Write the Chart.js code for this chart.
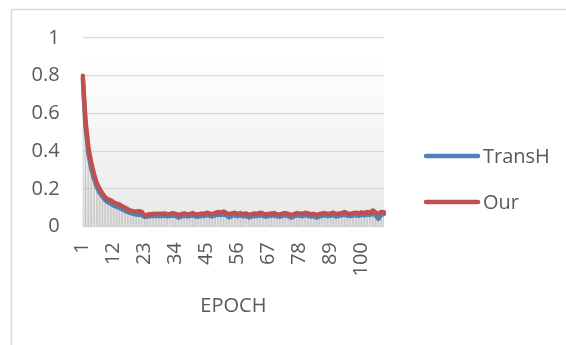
<!DOCTYPE html>
<html>
<head>
<meta charset="utf-8">
<script src="https://cdn.jsdelivr.net/npm/chart.js@4/dist/chart.umd.min.js"></script>
<style>
  html, body { margin: 0; padding: 0; background: #ffffff; }
  #wrap { position: relative; width: 566px; height: 345px; }
</style>
</head>
<body>
<div id="wrap"><canvas id="c" width="566" height="345"></canvas></div>
<script>
// Training loss per epoch
const epochs = [];
for (let e = 1; e <= 108; e++) epochs.push(String(e));

const tickLabels = ['1', '12', '23', '34', '45', '56', '67', '78', '89', '100'];
const yTickLabels = ['0', '0.2', '0.4', '0.6', '0.8', '1'];

const transH = [
  0.79, 0.53, 0.39, 0.31, 0.255, 0.21, 0.18, 0.16, 0.14, 0.13,
  0.122, 0.112, 0.106, 0.10, 0.092, 0.085, 0.078, 0.072, 0.068, 0.065,
  0.063, 0.062, 0.052, 0.054, 0.056, 0.058, 0.056, 0.058, 0.057, 0.059,
  0.055, 0.057, 0.06, 0.056, 0.048, 0.054, 0.058, 0.055, 0.057, 0.06,
  0.055, 0.053, 0.058, 0.056, 0.062, 0.058, 0.055, 0.06, 0.064, 0.062,
  0.066, 0.06, 0.05, 0.057, 0.062, 0.056, 0.06, 0.055, 0.058, 0.049,
  0.054, 0.058, 0.056, 0.061, 0.058, 0.053, 0.056, 0.058, 0.06, 0.055,
  0.053, 0.058, 0.06, 0.056, 0.048, 0.054, 0.06, 0.058, 0.056, 0.062,
  0.058, 0.054, 0.056, 0.048, 0.054, 0.058, 0.06, 0.056, 0.058, 0.062,
  0.054, 0.058, 0.06, 0.064, 0.058, 0.056, 0.06, 0.062, 0.058, 0.063,
  0.06, 0.065, 0.062, 0.07, 0.06, 0.042, 0.062, 0.068
];

const our = [
  0.80, 0.56, 0.42, 0.34, 0.28, 0.23, 0.20, 0.175, 0.155, 0.145,
  0.14, 0.128, 0.122, 0.118, 0.108, 0.10, 0.092, 0.085, 0.082, 0.08,
  0.082, 0.078, 0.058, 0.064, 0.066, 0.068, 0.067, 0.069, 0.068, 0.07,
  0.066, 0.068, 0.072, 0.068, 0.062, 0.066, 0.07, 0.066, 0.068, 0.072,
  0.066, 0.064, 0.07, 0.068, 0.074, 0.07, 0.066, 0.072, 0.078, 0.074,
  0.08, 0.072, 0.066, 0.07, 0.074, 0.068, 0.072, 0.066, 0.07, 0.062,
  0.066, 0.07, 0.068, 0.074, 0.07, 0.064, 0.068, 0.07, 0.072, 0.066,
  0.064, 0.07, 0.072, 0.068, 0.062, 0.066, 0.072, 0.07, 0.068, 0.074,
  0.07, 0.066, 0.068, 0.062, 0.066, 0.07, 0.072, 0.068, 0.07, 0.074,
  0.066, 0.07, 0.072, 0.078, 0.07, 0.068, 0.072, 0.074, 0.07, 0.076,
  0.072, 0.078, 0.074, 0.086, 0.076, 0.066, 0.078, 0.076
];

// drop lines run from the higher of the two series down to zero
const dropLines = transH.map((v, i) => Math.max(v, our[i]));

const TEXT = '#595959';
const FONT = "'Open Sans', 'Liberation Sans', sans-serif";
Chart.defaults.font.family = FONT;
Chart.defaults.font.size = 20;
Chart.defaults.color = TEXT;

const frame = {
  id: 'frame',
  beforeDraw(chart) {
    const { ctx, chartArea: a } = chart;
    ctx.save();
    // outer chart border (top and left edges)
    ctx.strokeStyle = '#d9d9d9';
    ctx.lineWidth = 1.5;
    ctx.beginPath();
    ctx.moveTo(11.5, 345);
    ctx.lineTo(11.5, 9.5);
    ctx.lineTo(566, 9.5);
    ctx.stroke();
    // plot area gradient fill
    const g = ctx.createLinearGradient(0, a.top, 0, a.bottom);
    g.addColorStop(0, '#ffffff');
    g.addColorStop(0.1, '#ffffff');
    g.addColorStop(1, '#e8e8e8');
    ctx.fillStyle = g;
    ctx.fillRect(a.left, a.top, a.right - a.left, a.bottom - a.top);
    ctx.restore();
  }
};

// legend: line sample followed by the series name, stacked on the right
const sideLegend = {
  id: 'sideLegend',
  afterDraw(chart) {
    const { ctx } = chart;
    const rows = chart.data.datasets.filter(d => d.type === 'line');
    ctx.save();
    ctx.font = '20px ' + FONT;
    ctx.textBaseline = 'middle';
    ctx.textAlign = 'left';
    rows.forEach((d, i) => {
      const y = 156 + i * 46;
      ctx.strokeStyle = d.borderColor;
      ctx.lineWidth = 4.5;
      ctx.lineCap = 'round';
      ctx.beginPath();
      ctx.moveTo(426, y);
      ctx.lineTo(478, y);
      ctx.stroke();
      ctx.fillStyle = TEXT;
      ctx.fillText(d.label, 483, y + 1);
    });
    ctx.restore();
  }
};

new Chart(document.getElementById('c'), {
  data: {
    labels: epochs,
    datasets: [
      {
        type: 'line', label: 'TransH', data: transH,
        borderColor: '#4f81bd', backgroundColor: '#4f81bd',
        borderWidth: 4.5, pointRadius: 0, tension: 0,
        borderJoinStyle: 'round', borderCapStyle: 'round', order: 1
      },
      {
        type: 'line', label: 'Our', data: our,
        borderColor: '#c0504d', backgroundColor: '#c0504d',
        borderWidth: 4.5, pointRadius: 0, tension: 0,
        borderJoinStyle: 'round', borderCapStyle: 'round', order: 0
      },
      {
        type: 'bar', label: 'drop', data: dropLines,
        backgroundColor: 'rgba(140,140,140,0.35)',
        barThickness: 1, order: 2
      }
    ]
  },
  options: {
    responsive: false,
    animation: false,
    layout: { padding: { top: 38, bottom: 27, left: 8.6, right: 182 } },
    plugins: {
      tooltip: { enabled: false },
      legend: { display: false }
    },
    scales: {
      x: {
        type: 'category',
        offset: false,
        grid: { display: false },
        border: { display: false },
        ticks: {
          autoSkip: false, maxRotation: 90, minRotation: 90, padding: 7.5,
          color: TEXT, font: { size: 20 },
          callback(val, i) { const l = epochs[i]; return tickLabels.includes(l) ? l : ''; }
        },
        title: { display: true, text: 'EPOCH', color: TEXT, font: { size: 20 }, padding: { top: 10, bottom: 0 } }
      },
      y: {
        min: 0, max: 1,
        ticks: {
          stepSize: 0.2, padding: 23, color: TEXT, font: { size: 20 },
          callback(val, i) { return yTickLabels[i]; }
        },
        grid: { color: '#d9d9d9', lineWidth: 1.3, drawTicks: false },
        border: { display: false }
      }
    }
  },
  plugins: [frame, sideLegend]
});
</script>
</body>
</html>
